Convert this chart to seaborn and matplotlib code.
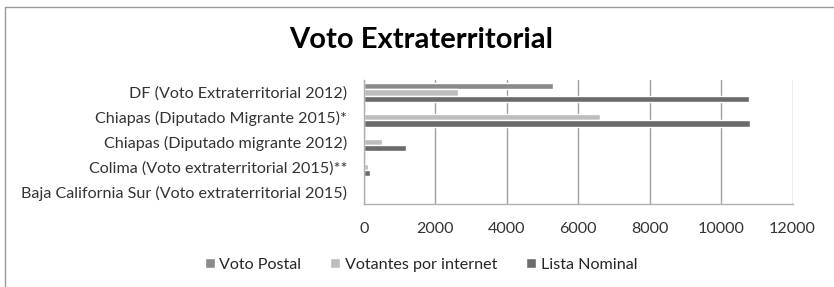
import matplotlib
matplotlib.use("Agg")
import matplotlib.pyplot as plt
from matplotlib.lines import Line2D
import seaborn as sns
import pandas as pd

# data
categories = [
    "DF (Voto Extraterritorial 2012)",
    "Chiapas (Diputado Migrante 2015)*",
    "Chiapas (Diputado migrante 2012)",
    "Colima (Voto extraterritorial 2015)**",
    "Baja California Sur (Voto extraterritorial 2015)",
]
voto_postal = [5280, 0, 0, 0, 0]
votantes_internet = [2630, 6615, 515, 100, 0]
lista_nominal = [10790, 10815, 1175, 160, 0]
series = ["Voto Postal", "Votantes por internet", "Lista Nominal"]
colors = ["#8a8a8a", "#bdbdbd", "#6b6b6b"]
xticks = [0, 2000, 4000, 6000, 8000, 10000, 12000]

rows = []
for name, vals in zip(series, [voto_postal, votantes_internet, lista_nominal]):
    for cat, v in zip(categories, vals):
        rows.append((cat, name, v))
df = pd.DataFrame(rows, columns=["categoria", "serie", "valor"])

sns.set_style("white")
plt.rcParams["font.family"] = ["Lato", "DejaVu Sans"]

fig = plt.figure(figsize=(8.34, 2.87), dpi=100)
ax = fig.add_axes([364 / 834, 1 - 204.3 / 287, (792.5 - 364) / 834, (204.3 - 80) / 287])

sns.barplot(
    data=df, y="categoria", x="valor", hue="serie", order=categories,
    hue_order=series, palette=colors, orient="h", width=0.75, gap=0,
    saturation=1, ax=ax, legend=True,
)

ax.set_xlim(0, 12000)
ax.set_xticks(xticks)
ax.set_xticklabels([str(t) for t in xticks], fontsize=11.6, color="#333333")
ax.tick_params(axis="y", labelsize=11.6, labelcolor="#333333", length=0, pad=12)
ax.tick_params(axis="x", length=0, pad=13)
ax.set_xlabel("")
ax.set_ylabel("")
ax.grid(axis="x", color="#a0a0a0", linewidth=1)
ax.set_axisbelow(True)
for side in ["top", "right"]:
    ax.spines[side].set_visible(False)
for side in ["left", "bottom"]:
    ax.spines[side].set_color("#b0b0b0")
    ax.spines[side].set_linewidth(1)

handles, labels = ax.get_legend_handles_labels()
ax.legend_.remove()
fig.legend(handles, labels, loc="center", bbox_to_anchor=(0.505, 1 - 265 / 287),
           ncol=3, frameon=False, fontsize=11.6, handlelength=0.6,
           handleheight=0.6, handletextpad=0.3, columnspacing=1.8)

fig.text(0.505, 1 - 40 / 287, "Voto Extraterritorial", ha="center", va="center",
         fontsize=21, fontweight="bold", color="#000000")

# chart frame (left and top edges visible)
fig.add_artist(Line2D([4.5 / 834, 4.5 / 834], [0, 1 - 6.5 / 287], color="#9a9a9a", linewidth=1))
fig.add_artist(Line2D([4.5 / 834, 1], [1 - 6.5 / 287, 1 - 6.5 / 287], color="#9a9a9a", linewidth=1))

fig.savefig("out.png", dpi=100)
